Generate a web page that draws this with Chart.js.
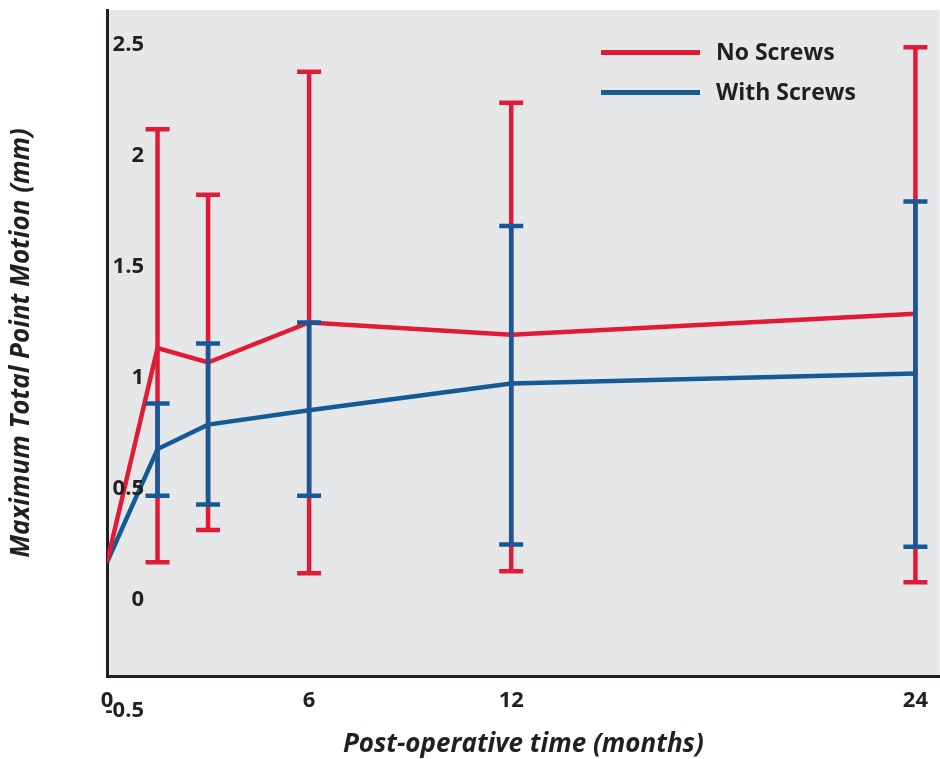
<!DOCTYPE html>
<html>
<head>
<meta charset="utf-8">
<script src="https://cdn.jsdelivr.net/npm/chart.js@4"></script>
<style>
  html, body { margin: 0; padding: 0; background: #ffffff; }
  canvas { display: block; }
</style>
</head>
<body>
<canvas id="chart" width="940" height="759"></canvas>
<script>
// data (months after surgery, mm)
const months = [0, 1.5, 3, 6, 12, 24];
const xTickValues = [0, 6, 12, 24];
const yTickValues = [-0.5, 0, 0.5, 1, 1.5, 2, 2.5];

const noScrewsMean = [0.17, 1.135, 1.07, 1.25, 1.195, 1.29];
const noScrewsLow  = [null, 0.17, 0.315, 0.12, 0.13, 0.08];
const noScrewsHigh = [null, 2.12, 1.825, 2.38, 2.24, 2.49];

const withScrewsMean = [0.17, 0.68, 0.79, 0.855, 0.975, 1.02];
const withScrewsLow  = [null, 0.47, 0.43, 0.47, 0.25, 0.24];
const withScrewsHigh = [null, 0.885, 1.155, 1.25, 1.685, 1.795];

const RED = '#e11a36';
const BLUE = '#145a97';
const INK = '#231f20';
const FONT = "'Open Sans', 'DejaVu Sans', sans-serif";

const toPoints = ys => months.map((m, i) => ({ x: m, y: ys[i] }));

const series = [
  { label: 'No Screws', color: RED, mean: noScrewsMean, low: noScrewsLow, high: noScrewsHigh },
  { label: 'With Screws', color: BLUE, mean: withScrewsMean, low: withScrewsLow, high: withScrewsHigh },
];

const plotBackground = {
  id: 'plotBackground',
  beforeDraw(chart) {
    const { ctx, chartArea: a } = chart;
    ctx.save();
    ctx.fillStyle = '#e6e7e9';
    ctx.fillRect(a.left, a.top, a.right - a.left, a.bottom - a.top);
    ctx.restore();
  }
};

const errorBars = {
  id: 'errorBars',
  afterDatasetsDraw(chart) {
    const { ctx, scales: { x, y } } = chart;
    ctx.save();
    ctx.lineWidth = 4.5;
    series.forEach(s => {
      ctx.strokeStyle = s.color;
      months.forEach((m, i) => {
        if (s.low[i] == null) return;
        const px = x.getPixelForValue(m);
        const top = y.getPixelForValue(s.high[i]);
        const bot = y.getPixelForValue(s.low[i]);
        ctx.beginPath();
        ctx.moveTo(px, top);
        ctx.lineTo(px, bot);
        ctx.moveTo(px - 12, top);
        ctx.lineTo(px + 12, top);
        ctx.moveTo(px - 12, bot);
        ctx.lineTo(px + 12, bot);
        ctx.stroke();
      });
    });
    ctx.restore();
  }
};

// y labels sit inside the plot, right aligned, as in the original figure
const yLabels = {
  id: 'yLabels',
  afterDraw(chart) {
    const { ctx, scales: { y } } = chart;
    ctx.save();
    ctx.font = `bold 22px ${FONT}`;
    ctx.fillStyle = INK;
    ctx.textAlign = 'right';
    ctx.textBaseline = 'middle';
    yTickValues.forEach(v => ctx.fillText(String(v), 144, y.getPixelForValue(v)));
    ctx.restore();
  }
};

const legendLines = {
  id: 'legendLines',
  afterDraw(chart) {
    const { ctx } = chart;
    ctx.save();
    ctx.font = `bold 23px ${FONT}`;
    ctx.textBaseline = 'middle';
    ctx.textAlign = 'left';
    chart.data.datasets.forEach((ds, i) => {
      const yy = 52 + i * 40;
      ctx.fillStyle = ds.borderColor;
      ctx.fillRect(601, yy - 2, 99, 5);
      ctx.fillStyle = INK;
      ctx.fillText(ds.label, 716, yy + 1);
    });
    ctx.restore();
  }
};

new Chart(document.getElementById('chart'), {
  type: 'line',
  data: {
    datasets: series.map(s => ({
      label: s.label,
      data: toPoints(s.mean),
      borderColor: s.color,
      backgroundColor: s.color,
      borderWidth: 4.5,
      pointRadius: 0,
      tension: 0,
      fill: false,
    })),
  },
  plugins: [plotBackground, errorBars, yLabels, legendLines],
  options: {
    responsive: false,
    animation: false,
    devicePixelRatio: 1,
    layout: { padding: { top: 10, right: 0, bottom: 0, left: 0 } },
    plugins: {
      legend: { display: false },
      tooltip: { enabled: false },
    },
    scales: {
      x: {
        type: 'linear',
        min: 0,
        max: 24.72,
        afterBuildTicks: scale => { scale.ticks = xTickValues.map(v => ({ value: v })); },
        afterFit: scale => { scale.height = 83; },
        grid: { display: false, drawTicks: false },
        border: { display: true, color: INK, width: 3 },
        ticks: {
          autoSkip: false,
          maxRotation: 0,
          padding: 12,
          color: INK,
          font: { family: FONT, size: 22, weight: 'bold' },
        },
        title: {
          display: true,
          text: 'Post-operative time (months)',
          color: INK,
          padding: { top: 0, bottom: 0 },
          font: { family: FONT, size: 26, weight: 'bold', style: 'italic', lineHeight: 1.1 },
        },
      },
      y: {
        type: 'linear',
        min: -0.3423,
        max: 2.6577,
        afterFit: scale => { scale.width = 107; },
        grid: { display: false, drawTicks: false },
        border: { display: true, color: INK, width: 3 },
        ticks: { display: false },
        title: {
          display: true,
          text: 'Maximum Total Point Motion (mm)',
          color: INK,
          padding: { top: 7, bottom: 0 },
          font: { family: FONT, size: 26, weight: 'bold', style: 'italic', lineHeight: 1.1 },
        },
      },
    },
  },
});
</script>
</body>
</html>
